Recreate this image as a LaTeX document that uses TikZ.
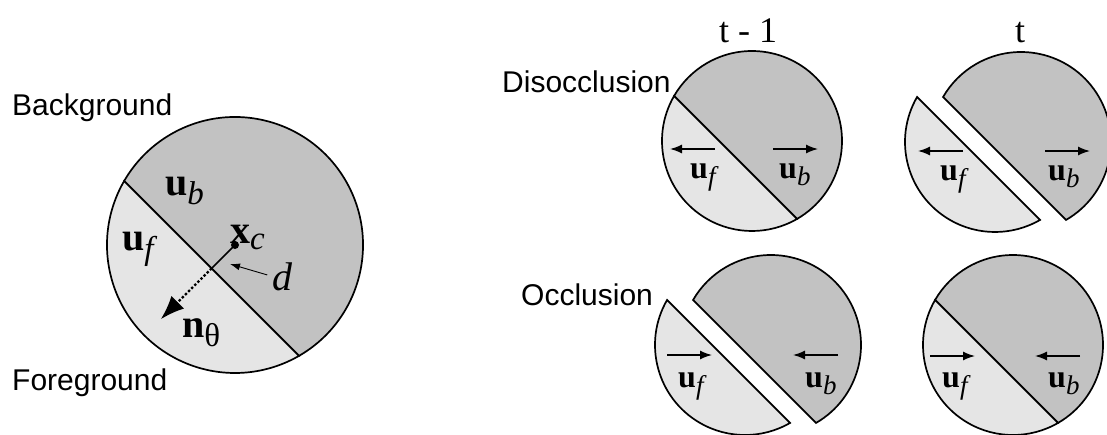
\documentclass[tikz,border=0pt]{standalone}
\RequirePackage{fix-cm}
\usepackage{amsmath}
\usepackage{fontspec}
\setmainfont{Liberation Serif}
\setsansfont{Liberation Sans}
\usetikzlibrary{arrows.meta}

\DeclareMathSizes{40}{40}{33}{26}
\DeclareMathSizes{32}{32}{27}{21}

\definecolor{bgshade}{gray}{0.76}
\definecolor{fgshade}{gray}{0.90}

\begin{document}
\begin{tikzpicture}[
        x=1pt, y=1pt,
        piece/.style={draw, line width=1.7pt},
        fg_piece/.style={piece, fill=fgshade},
        bg_piece/.style={piece, fill=bgshade},
        region_label/.style={font=\fontsize{30}{36}\selectfont\sffamily, anchor=base west, inner sep=0pt},
        time_label/.style={font=\fontsize{36}{40}\selectfont, anchor=base, inner sep=0pt},
        big_vec/.style={font=\fontsize{40}{44}\selectfont, anchor=base west, inner sep=0pt},
        small_vec/.style={font=\fontsize{32}{36}\selectfont, anchor=base west, inner sep=0pt},
        motion/.style={-{Latex[length=12pt,width=9pt]}, line width=1.4pt},
        pointer/.style={-{Latex[length=10pt,width=7pt]}, line width=0.9pt, shorten <=5pt},
        normal_vec/.style={-{Latex[length=24pt,width=18pt]}, line width=2.4pt, dash pattern=on 2.4pt off 2pt},
        center_dot/.style={circle, fill, inner sep=0pt, minimum size=8pt}
    ]
        \useasboundingbox (0,0) rectangle (1107,-434);

        % Kruhy: střed x / střed y / poloměr / posun polovin
        \foreach \cx/\cy/\r/\gap in {235/-245/128/0, 752/-141/90/0, 1008/-142/90/13, 758/-345/90/13, 1013/-345/90/0}{
            \draw[bg_piece] ({\cx+\gap},\cy) ++(300:\r) arc[start angle=300, end angle=510, radius=\r] -- cycle;
            \draw[fg_piece] ({\cx-\gap},\cy) ++(150:\r) arc[start angle=150, end angle=300, radius=\r] -- cycle;
        }

        % Levý kruh - model hrany
        \coordinate (c0) at (235,-245);
        \path (c0) ++(225:33) coordinate (foot) ++(225:72) coordinate (ntip);
        \coordinate (dtip) at (230,-264);
        \node[center_dot] (xc) at (c0) {};
        \draw[line width=1.6pt] (xc.center) -- (foot);
        \draw[normal_vec] (foot) -- (ntip);

        \node[region_label] (bg) at (12,-115) {Background};
        \node[region_label] (fg) at (12,-390) {Foreground};
        \node[big_vec] (ub0) at (165,-195) {$\mathbf{u}_{\mathit{b}}$};
        \node[big_vec] (uf0) at (122,-250) {$\mathbf{u}_{\mathit{f}}$};
        \node[big_vec] (xclab) at (230,-243) {$\mathbf{x}_{\mathit{c}}$};
        \node[big_vec] (dlab) at (272,-290) {$\mathit{d}$};
        \node[big_vec] (nlab) at (182,-337) {$\mathbf{n}_{\text{θ}}$};
        \draw[pointer] (dlab.west) -- (dtip);

        % Pravá část - časy a případy
        \node[time_label] (tprev) at (748,-42) {t - 1};
        \node[time_label] (tnow) at (1020,-42) {t};
        \node[region_label] (disocc) at (502,-92) {Disocclusion};
        \node[region_label] (occ) at (521,-305) {Occlusion};

        % Disocclusion
        \node[small_vec] (uf1) at (690,-178) {$\mathbf{u}_{\mathit{f}}$};
        \node[small_vec] (ub1) at (779,-178) {$\mathbf{u}_{\mathit{b}}$};
        \node[small_vec] (uf2) at (940,-180) {$\mathbf{u}_{\mathit{f}}$};
        \node[small_vec] (ub2) at (1048,-180) {$\mathbf{u}_{\mathit{b}}$};
        \draw[motion] ([shift={(25,29)}]uf1.base west) -- ++(-45,0);
        \draw[motion] ([shift={(-6,29)}]ub1.base west) -- ++(45,0);
        \draw[motion] ([shift={(23,29)}]uf2.base west) -- ++(-45,0);
        \draw[motion] ([shift={(-3,29)}]ub2.base west) -- ++(45,0);

        % Occlusion
        \node[small_vec] (uf3) at (678,-387) {$\mathbf{u}_{\mathit{f}}$};
        \node[small_vec] (ub3) at (805,-387) {$\mathbf{u}_{\mathit{b}}$};
        \node[small_vec] (uf4) at (942,-387) {$\mathbf{u}_{\mathit{f}}$};
        \node[small_vec] (ub4) at (1048,-387) {$\mathbf{u}_{\mathit{b}}$};
        \draw[motion] ([shift={(-11,32)}]uf3.base west) -- ++(45,0);
        \draw[motion] ([shift={(33,32)}]ub3.base west) -- ++(-45,0);
        \draw[motion] ([shift={(-12,31)}]uf4.base west) -- ++(45,0);
        \draw[motion] ([shift={(32,31)}]ub4.base west) -- ++(-45,0);
    \end{tikzpicture}
\end{document}
